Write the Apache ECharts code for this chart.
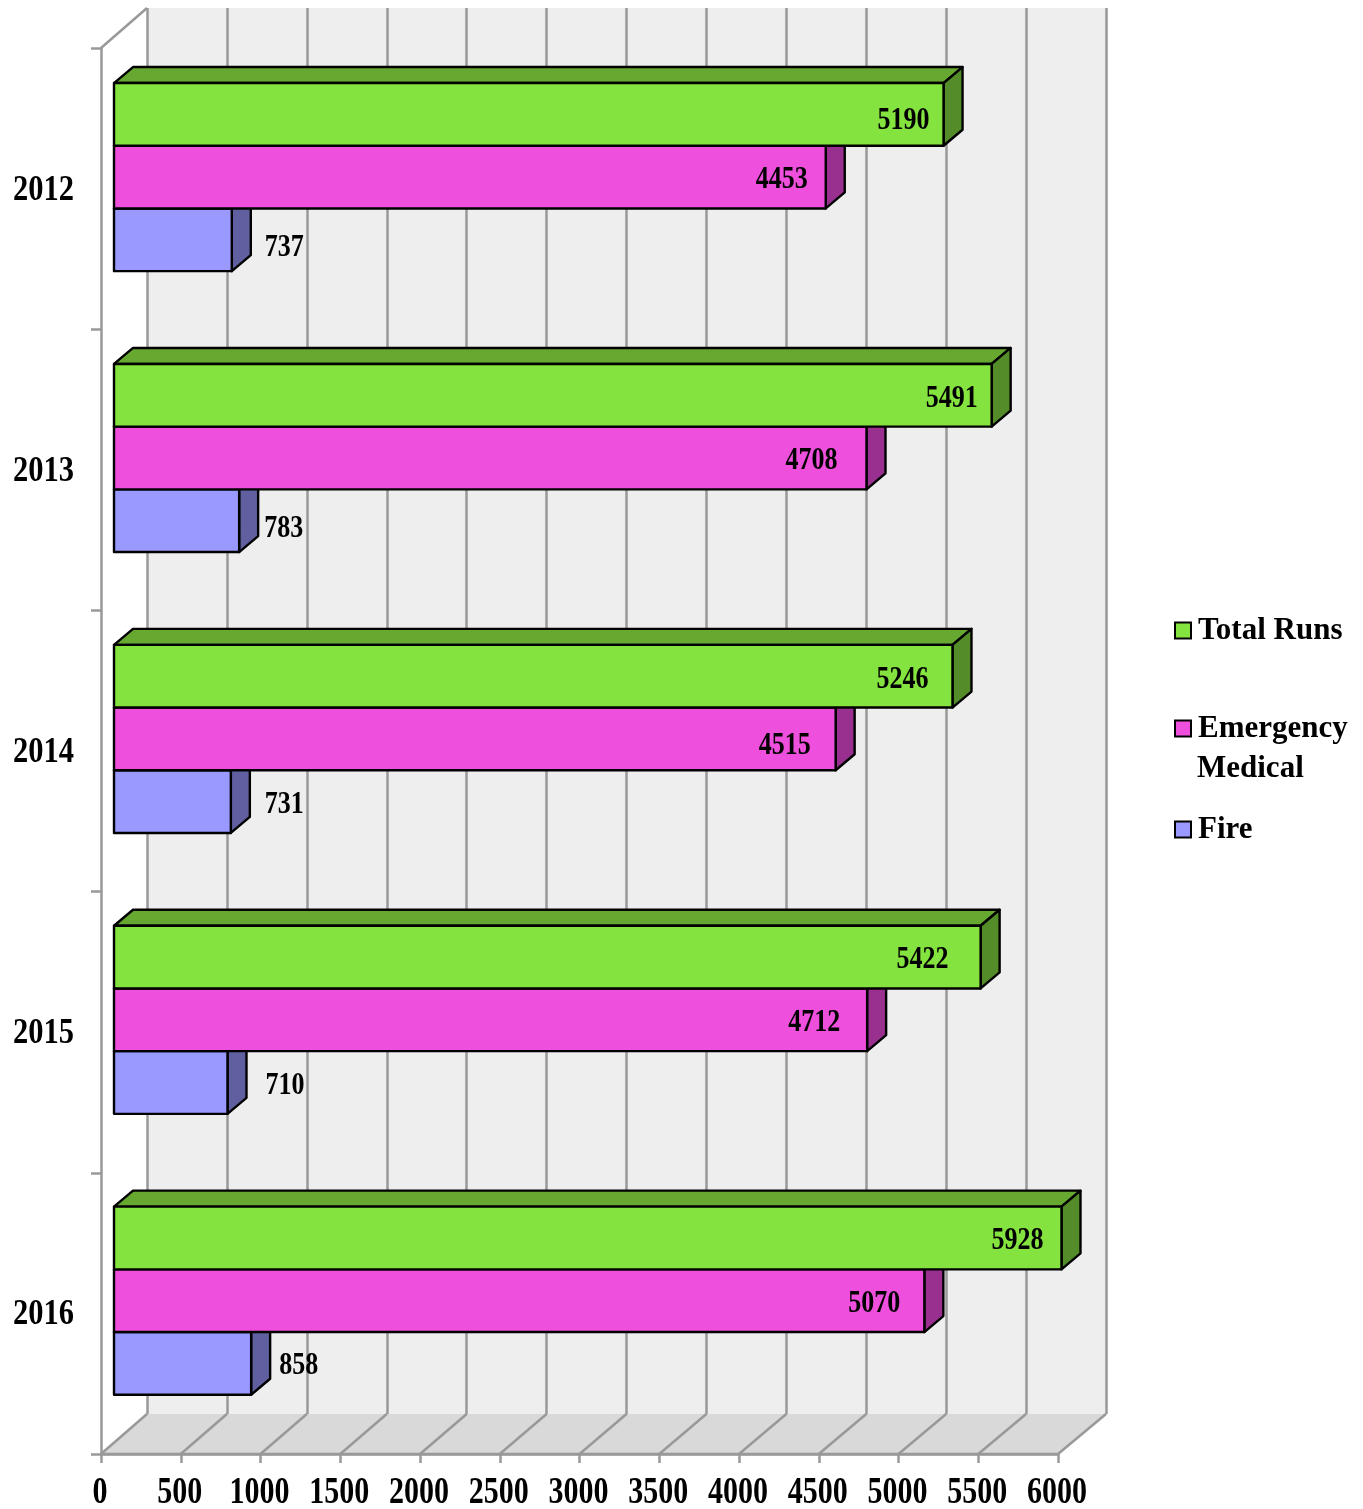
<!DOCTYPE html>
<html>
<head>
<meta charset="utf-8">
<title>Runs by year</title>
<script src="https://cdn.jsdelivr.net/npm/echarts@6/dist/echarts.min.js"></script>
<style>
    html, body { margin: 0; padding: 0; background: #fff; }
    #runsChart { width: 1363px; height: 1509px; }
</style>
</head>
<body>
<div id="runsChart"></div>
<script>
var years = ['2012', '2013', '2014', '2015', '2016'];
var totalRuns = [5190, 5491, 5246, 5422, 5928];
var emergencyMedical = [4453, 4708, 4515, 4712, 5070];
var fire = [737, 783, 731, 710, 858];
var xTicks = [0, 500, 1000, 1500, 2000, 2500, 3000, 3500, 4000, 4500, 5000, 5500, 6000];

// hand placed offsets of the value labels, the original has them all over the place
var labelShiftTotal = [[-14, 6], [-14, 3], [-24, 3], [-32, 3], [-18, 3]];
var labelShiftMedical = [[-18, 3], [-29, 3], [-25, 7], [-27, 3], [-24, 3]];
var labelShiftFire = [[33, 8], [25, 8], [34, 3], [38, 3], [28, 2]];

var SERIF = '"Liberation Serif", "Times New Roman", serif';
var GRAY = '#999999';
var BAR_H = 62.7;
var BAR_DX = 19, BAR_DY = -16;   // depth of the bars
var FRONT_SHIFT = 33;            // bars sit in front of the back wall

var runsChart = echarts.init(document.getElementById('runsChart'), null, {renderer: 'canvas'});

/** the original text is stretched upward, the axis and legend fonts can't do that */
function tallText(str, x, y, fontSize, align, stretch) {
    return {
        type: 'text',
        x: x,
        y: y,
        scaleY: stretch,
        style: {
            text: str,
            x: 0,
            y: 0,
            fill: '#000',
            font: 'bold ' + fontSize + 'px ' + SERIF,
            textAlign: align,
            textVerticalAlign: 'middle'
        }
    };
}

/** one bar series, drawn on its own axes and pulled forward */
function barRenderer(slot, colors, shifts, outside) {
    return function (params, api) {
        var i = api.value(1);
        var end = api.coord([api.value(0), i]);
        var zero = api.coord([0, i]);
        var x0 = zero[0] - FRONT_SHIFT;
        var x1 = end[0] - FRONT_SHIFT;
        var y0 = end[1] - 65.4 + slot * BAR_H;
        var y1 = y0 + BAR_H;
        var line = {stroke: '#000', lineWidth: 2.4, lineJoin: 'round'};
        var shift = shifts[i];
        return {
            type: 'group',
            children: [
                {
                    type: 'polygon',
                    shape: {points: [[x0, y0], [x0 + BAR_DX, y0 + BAR_DY], [x1 + BAR_DX, y0 + BAR_DY], [x1, y0]]},
                    style: echarts.util.extend({fill: colors[1]}, line)
                },
                {
                    type: 'polygon',
                    shape: {points: [[x1, y0], [x1 + BAR_DX, y0 + BAR_DY], [x1 + BAR_DX, y1 + BAR_DY], [x1, y1]]},
                    style: echarts.util.extend({fill: colors[2]}, line)
                },
                {
                    type: 'rect',
                    shape: {x: x0, y: y0, width: x1 - x0, height: BAR_H},
                    style: echarts.util.extend({fill: colors[0]}, line)
                },
                tallText(String(api.value(0)), x1 + shift[0], (y0 + y1) / 2 + shift[1], 26, outside ? 'left' : 'right', 1.25)
            ]
        };
    };
}

/** floor, the slanted lines and the tick labels, on the front axes */
function floorRenderer(params, api) {
    var band = api.size([0, 1])[1];
    var bottom = api.coord([0, years.length - 1])[1] + band / 2;
    var top = api.coord([0, 0])[1] - band / 2;
    var left = api.coord([0, 0])[0];
    var right = api.coord([6000, 0])[0];
    var depthY = -40;
    var lineStyle = {stroke: GRAY, lineWidth: 2.5};
    var kids = [
        {
            type: 'polygon',
            shape: {points: [[left, bottom], [left + 46, bottom + depthY], [right + 48, bottom + depthY], [right, bottom]]},
            style: {fill: '#d9d9d9'}
        },
        {type: 'line', shape: {x1: left, y1: top, x2: left + 46, y2: top + depthY}, style: lineStyle},
        {type: 'line', shape: {x1: left, y1: bottom, x2: right, y2: bottom}, style: lineStyle}
    ];
    xTicks.forEach(function (v) {
        var x = api.coord([v, 0])[0];
        kids.push({
            type: 'line',
            shape: {x1: x, y1: bottom, x2: x + 46 + 2 * v / 6000, y2: bottom + depthY},
            style: lineStyle
        });
        kids.push(tallText(String(v), x - 1, bottom + 39, 30, 'center', 1.25));
    });
    years.forEach(function (year, i) {
        kids.push(tallText(year, left - 27, api.coord([0, i])[1] + 1.5, 30.5, 'right', 1.2));
    });
    return {type: 'group', children: kids};
}

function toPairs(list) {
    return list.map(function (v, i) { return [v, i]; });
}

function legendAt(name, label, top) {
    return {
        data: [name],
        orient: 'vertical',
        left: 1169,
        top: top,
        icon: 'rect',
        itemWidth: 16,
        itemHeight: 16,
        itemStyle: {borderColor: '#000', borderWidth: 2},
        formatter: function () { return label; },
        selectedMode: false,
        textStyle: {fontFamily: SERIF, fontWeight: 'bold', fontSize: 31, color: '#000', padding: [0, 0, 0, 2]}
    };
}

var axisStroke = {color: GRAY, width: 2.5};

runsChart.setOption({
    animation: false,
    backgroundColor: '#fff',
    legend: [
        legendAt('Total Runs', 'Total Runs', 610),
        legendAt('Emergency Medical', 'Emergency', 708),
        legendAt('Fire', 'Fire', 809)
    ],
    graphic: [{
        type: 'text',
        left: 1197,
        top: 753,
        style: {text: 'Medical', fill: '#000', font: 'bold 31px ' + SERIF}
    }],
    grid: [
        {left: 101, top: 48, width: 957, height: 1406},
        {left: 147, top: 8, width: 959, height: 1406, show: true, backgroundColor: '#eeeeee', borderWidth: 0},
        {left: 147, top: 8, width: 959, height: 1404.5}
    ],
    xAxis: [
        {
            gridIndex: 0,
            type: 'value',
            min: 0,
            max: 6000,
            interval: 500,
            splitLine: {show: false},
            axisLine: {show: true, lineStyle: axisStroke},
            axisTick: {show: true, length: 9, lineStyle: axisStroke},
            axisLabel: {show: false}
        },
        {
            gridIndex: 1,
            type: 'value',
            min: 0,
            max: 6000,
            interval: 500,
            splitLine: {show: true, lineStyle: axisStroke},
            axisLine: {show: false},
            axisTick: {show: false},
            axisLabel: {show: false}
        },
        {
            gridIndex: 2,
            type: 'value',
            min: 0,
            max: 6000,
            show: false
        }
    ],
    yAxis: [
        {
            gridIndex: 0,
            type: 'category',
            inverse: true,
            data: years,
            axisLine: {show: true, lineStyle: axisStroke},
            axisTick: {show: true, length: 10, lineStyle: axisStroke},
            axisLabel: {show: false}
        },
        {
            gridIndex: 1,
            type: 'category',
            inverse: true,
            data: years,
            show: false
        },
        {
            gridIndex: 2,
            type: 'category',
            inverse: true,
            data: years,
            show: false
        }
    ],
    series: [
        {
            name: 'floor',
            type: 'custom',
            xAxisIndex: 0,
            yAxisIndex: 0,
            z: 1,
            silent: true,
            data: [[0, 0]],
            renderItem: floorRenderer
        },
        {
            name: 'Total Runs',
            type: 'custom',
            xAxisIndex: 2,
            yAxisIndex: 2,
            z: 6,
            itemStyle: {color: '#84e33e'},
            encode: {x: 0, y: 1},
            data: toPairs(totalRuns),
            renderItem: barRenderer(0, ['#84e33e', '#66a830', '#538c28'], labelShiftTotal, false)
        },
        {
            name: 'Emergency Medical',
            type: 'custom',
            xAxisIndex: 2,
            yAxisIndex: 2,
            z: 5,
            itemStyle: {color: '#ee4fdc'},
            encode: {x: 0, y: 1},
            data: toPairs(emergencyMedical),
            renderItem: barRenderer(1, ['#ee4fdc', '#b23ba5', '#993090'], labelShiftMedical, false)
        },
        {
            name: 'Fire',
            type: 'custom',
            xAxisIndex: 2,
            yAxisIndex: 2,
            z: 4,
            itemStyle: {color: '#9999ff'},
            encode: {x: 0, y: 1},
            data: toPairs(fire),
            renderItem: barRenderer(2, ['#9999ff', '#7373bf', '#6060a0'], labelShiftFire, true)
        }
    ]
});

window.onresize = function () {
    runsChart.resize();
};
</script>
</body>
</html>
